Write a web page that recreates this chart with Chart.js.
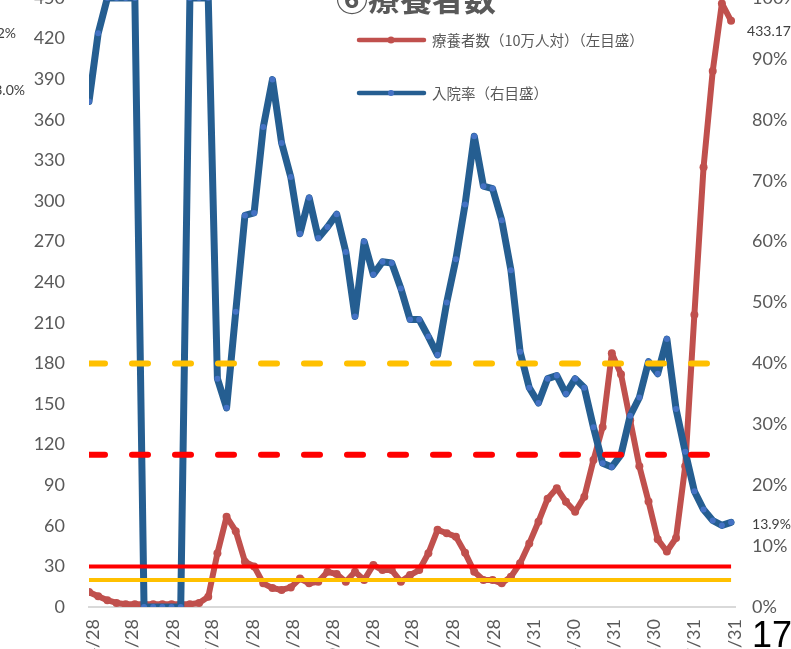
<!DOCTYPE html>
<html>
<head>
<meta charset="utf-8">
<script src="https://cdn.jsdelivr.net/npm/chart.js@4.4.0/dist/chart.umd.min.js"></script>
<style>
  html, body { margin: 0; padding: 0; background: #fff; overflow: hidden; width: 791px; height: 649px; }
  #wrap { position: absolute; left: 0; top: -42px; width: 791px; height: 752px; }
  #pageNo { position: absolute; left: 752px; top: 614px; font: 36px "Liberation Sans", Arial, sans-serif; color: #000; }
</style>
</head>
<body>
<div id="wrap"><canvas id="chart" width="791" height="752"></canvas></div>
<div id="pageNo">17</div>
<script>
const chartTitle = '⑥療養者数';
const careLabel = '療養者数（10万人対）（左目盛）';
const rateLabel = '入院率（右目盛）';

// weekly reporting dates
const weekDates = [
  '2020/4/25','2020/5/2','2020/5/9','2020/5/16','2020/5/23','2020/5/30','2020/6/6','2020/6/13',
  '2020/6/20','2020/6/27','2020/7/4','2020/7/11','2020/7/18','2020/7/25','2020/8/1','2020/8/8',
  '2020/8/15','2020/8/22','2020/8/29','2020/9/5','2020/9/12','2020/9/19','2020/9/26','2020/10/3',
  '2020/10/10','2020/10/17','2020/10/24','2020/10/31','2020/11/7','2020/11/14','2020/11/21','2020/11/28',
  '2020/12/5','2020/12/12','2020/12/19','2020/12/26','2021/1/2','2021/1/9','2021/1/16','2021/1/23',
  '2021/1/30','2021/2/6','2021/2/13','2021/2/20','2021/2/27','2021/3/6','2021/3/13','2021/3/20',
  '2021/3/27','2021/4/3','2021/4/10','2021/4/17','2021/4/24','2021/5/1','2021/5/8','2021/5/15',
  '2021/5/22','2021/5/29','2021/6/5','2021/6/12','2021/6/19','2021/6/26','2021/7/3','2021/7/10',
  '2021/7/17','2021/7/24','2021/7/31','2021/8/7','2021/8/14','2021/8/21','2021/8/28'
];

// 療養者数 per 100k (left axis)
const carePer100k = [
  11, 8, 5, 3, 2, 2, 2, 2, 2, 2, 2, 2, 3, 7.5,
  39.7, 66.7, 56, 33.5, 30, 17.5, 14, 12.6, 14.5, 21, 17.5, 18.7, 26, 24.4,
  18.7, 26, 20, 31, 27.3, 27.3, 18.7, 23.6, 27.3, 39.7, 57, 54.5, 52, 40,
  26, 20, 20, 17.5, 22.4, 32.3, 47, 63, 80, 87.7, 77.8, 70.4, 81.5, 108.6,
  133, 187.5, 172, 138, 104, 78, 50, 41, 51, 104, 216, 325, 396, 446, 433.17
];

// 入院率 in % (right axis)
const hospRate = [
  83.0, 94.2, 100, 100, 100, 100, 0, 0, 0, 0, 0, 100, 100, 100,
  37.5, 32.7, 48.5, 64.3, 64.7, 78.8, 86.6, 76.2, 70.6, 61.3, 67.2, 60.6, 62.4, 64.5,
  58.3, 47.7, 60, 54.6, 56.7, 56.5, 52.3, 47.2, 47.2, 44.4, 41.4, 50, 57.1, 66.1,
  77.3, 69.1, 68.7, 63.5, 55.3, 41.9, 36, 33.5, 37.5, 38, 35, 37.5, 36, 29.5,
  23.6, 23, 25, 31.4, 34.4, 40.3, 38.3, 44, 32.5, 25.5, 19, 16, 14.2, 13.4, 13.9
];

// stage thresholds
const careStage4 = 30;   // left axis
const careStage3 = 20;   // left axis
const rateStage3 = 40;   // right axis, %
const rateStage4 = 25;   // right axis, %

const tickDates = [
  '2020/4/28','2020/5/28','2020/6/28','2020/7/28','2020/8/28','2020/9/28','2020/10/28','2020/11/28',
  '2020/12/28','2021/1/28','2021/2/28','2021/3/31','2021/4/30','2021/5/31','2021/6/30','2021/7/31','2021/8/31'
];

const RED = '#C0504D', BLUE = '#255E91', BLUE_PT = '#4472C4', GOLD = '#FFC000', STAGE_RED = '#FF0000';
const OFFSET_Y = 42; // canvas starts above the page top

function day(s) {
  const p = s.split('/').map(Number);
  return Date.UTC(p[0], p[1] - 1, p[2]) / 86400000;
}
const tickText = {};
tickDates.forEach(d => { tickText[day(d)] = d; });

function series(values) {
  return weekDates.map((d, i) => ({ x: day(d), y: values[i] }));
}
function flat(v) {
  return weekDates.map(d => ({ x: day(d), y: v }));
}

const decor = {
  id: 'decor',
  afterDraw(chart) {
    const ctx = chart.ctx;
    ctx.save();
    // title
    ctx.fillStyle = '#595959';
    ctx.font = 'bold 32px "Noto Sans CJK JP"';
    ctx.textAlign = 'center';
    ctx.textBaseline = 'alphabetic';
    ctx.fillText(chartTitle, 416, 11 + OFFSET_Y);

    // legend
    const entries = [
      { y: 40, color: RED, pt: RED, text: careLabel, w: 4.5, r: 3.5 },
      { y: 93, color: BLUE, pt: BLUE_PT, text: rateLabel, w: 4.5, r: 3 }
    ];
    entries.forEach(e => {
      const y = e.y + OFFSET_Y;
      ctx.strokeStyle = e.color;
      ctx.lineWidth = e.w;
      ctx.lineCap = 'round';
      ctx.beginPath();
      ctx.moveTo(359, y);
      ctx.lineTo(424, y);
      ctx.stroke();
      ctx.fillStyle = e.pt;
      ctx.beginPath();
      ctx.arc(391, y, e.r, 0, Math.PI * 2);
      ctx.fill();
      ctx.fillStyle = '#595959';
      ctx.font = '14.5px "Noto Sans CJK JP"';
      ctx.textAlign = 'left';
      ctx.textBaseline = 'middle';
      ctx.fillText(e.text, 432, y);
    });

    // end-point labels
    const last = weekDates.length - 1;
    const redPt = chart.getDatasetMeta(0).data[last];
    const bluePt = chart.getDatasetMeta(1).data[last];
    ctx.fillStyle = '#404040';
    ctx.font = '14px Lato';
    ctx.textAlign = 'left';
    ctx.textBaseline = 'middle';
    ctx.fillText(carePer100k[last].toFixed(2), redPt.x + 16, redPt.y + 11);
    ctx.fillText(hospRate[last].toFixed(1) + '%', bluePt.x + 21, bluePt.y + 2);

    // labels continuing from the panel on the left
    ctx.textAlign = 'right';
    ctx.fillText(hospRate[1].toFixed(1) + '%', 16, 33 + OFFSET_Y);
    ctx.fillText(hospRate[0].toFixed(1) + '%', 25, 90 + OFFSET_Y);
    ctx.restore();
  }
};

const tickFont = { family: 'Lato', size: 18 };

new Chart('chart', {
  type: 'line',
  data: {
    datasets: [
      {
        label: careLabel, data: series(carePer100k), yAxisID: 'y', order: 4,
        borderColor: RED, borderWidth: 6, borderJoinStyle: 'round', borderCapStyle: 'round',
        pointRadius: 4, pointBackgroundColor: RED, pointBorderWidth: 0
      },
      {
        label: rateLabel, data: series(hospRate), yAxisID: 'y1', order: 3,
        borderColor: BLUE, borderWidth: 7, borderJoinStyle: 'round', borderCapStyle: 'round',
        pointRadius: 3, pointBackgroundColor: BLUE_PT, pointBorderWidth: 0
      },
      {
        data: flat(rateStage3), yAxisID: 'y1', order: 2,
        borderColor: GOLD, borderWidth: 6, borderDash: [16, 27], borderCapStyle: 'round', pointRadius: 0
      },
      {
        data: flat(rateStage4), yAxisID: 'y1', order: 2,
        borderColor: STAGE_RED, borderWidth: 6, borderDash: [16, 27], borderCapStyle: 'round', pointRadius: 0
      },
      {
        data: flat(careStage4), yAxisID: 'y', order: 1,
        borderColor: STAGE_RED, borderWidth: 4, pointRadius: 0
      },
      {
        data: flat(careStage3), yAxisID: 'y', order: 1,
        borderColor: GOLD, borderWidth: 4, pointRadius: 0
      }
    ]
  },
  options: {
    responsive: false,
    animation: false,
    layout: { padding: { top: 40, left: 0, right: 0, bottom: 0 } },
    plugins: { legend: { display: false }, tooltip: { enabled: false } },
    scales: {
      x: {
        type: 'linear',
        min: day(weekDates[0]),
        max: day(tickDates[tickDates.length - 1]),
        afterBuildTicks: scale => { scale.ticks = tickDates.map(d => ({ value: day(d) })); },
        afterFit: scale => { scale.height = 103; },
        grid: { display: false, drawTicks: false },
        border: { display: true, color: '#D9D9D9', width: 2 },
        ticks: {
          autoSkip: false, maxRotation: 90, minRotation: 90, padding: 12,
          color: '#595959', font: tickFont,
          callback: v => tickText[v] || ''
        }
      },
      y: {
        position: 'left', min: 0, max: 450,
        afterFit: scale => { scale.width = 89; },
        grid: { display: false, drawTicks: false }, border: { display: false },
        ticks: { stepSize: 30, padding: 24, color: '#595959', font: tickFont }
      },
      y1: {
        position: 'right', min: 0, max: 100,
        afterFit: scale => { scale.width = 56; },
        grid: { display: false, drawTicks: false }, border: { display: false },
        ticks: { stepSize: 10, padding: 17, color: '#595959', font: tickFont, callback: v => v + '%' }
      }
    }
  },
  plugins: [decor]
});
</script>
</body>
</html>
